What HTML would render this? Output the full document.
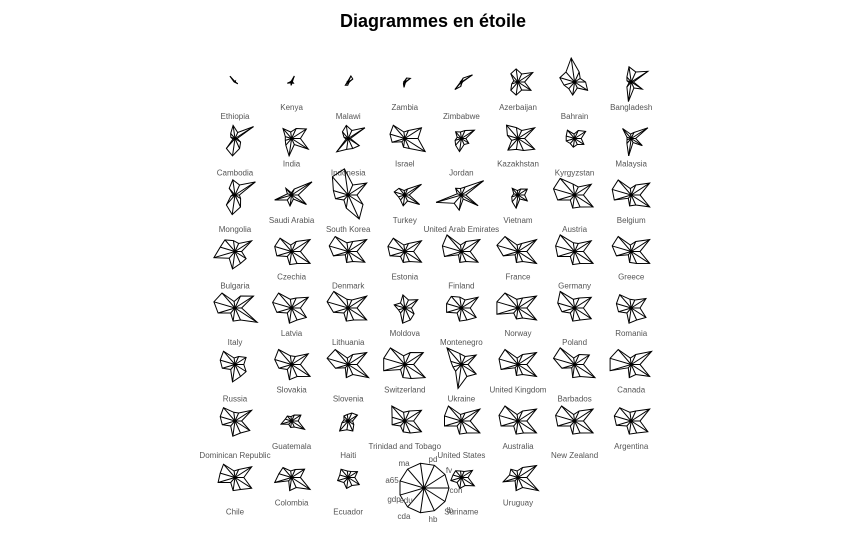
<!DOCTYPE html>
<html><head><meta charset="utf-8"><style>
body{margin:0;background:#fff;}
svg{display:block;font-family:"Liberation Sans",sans-serif;}
</style></head><body>
<svg id="chart" width="866" height="540">
<text x="433" y="27" text-anchor="middle" font-size="18" font-weight="bold">Diagrammes en étoile</text>
<g id="stars"></g>
</svg>
<script>
const countries=["Ethiopia","Kenya","Malawi","Zambia","Zimbabwe","Azerbaijan","Bahrain","Bangladesh",
"Cambodia","India","Indonesia","Israel","Jordan","Kazakhstan","Kyrgyzstan","Malaysia",
"Mongolia","Saudi Arabia","South Korea","Turkey","United Arab Emirates","Vietnam","Austria","Belgium",
"Bulgaria","Czechia","Denmark","Estonia","Finland","France","Germany","Greece",
"Italy","Latvia","Lithuania","Moldova","Montenegro","Norway","Poland","Romania",
"Russia","Slovakia","Slovenia","Switzerland","Ukraine","United Kingdom","Barbados","Canada",
"Dominican Republic","Guatemala","Haiti","Trinidad and Tobago","United States","Australia","New Zealand","Argentina",
"Chile","Colombia","Ecuador","Suriname","Uruguay"];
const slots=[0,1,2,3,4,5,6,7,8,9,10,11,12,13,14,15,16,17,18,19,20,21,22,23,24,25,26,27,28,29,30,31,32,33,34,35,36,37,38,39,40,41,42,43,44,45,46,47,48,49,50,51,52,53,54,55,56,57,58,60,61];
const variables=["con","fv","pd","","ma","a65","gdp","edu","cda","hb","lb"];
const values=[
[0.02,0.02,0.05,0.02,0.35,0.05,0.02,0.02,0.02,0.02,0.15],
[0.05,0.05,0.3,0.05,0.05,0.05,0.2,0.05,0.15,0.05,0.1],
[0.05,0.25,0.3,0.05,0.05,0.05,0.05,0.2,0.15,0.05,0.05],
[0.05,0.3,0.2,0.05,0.05,0.05,0.05,0.1,0.25,0.05,0.05],
[0.05,0.6,0.2,0.05,0.05,0.05,0.05,0.45,0.2,0.05,0.05],
[0.3,0.8,0.4,0.6,0.5,0.2,0.3,0.5,0.6,0.4,0.7],
[0.5,0.3,0.5,1.1,0.6,0.7,0.5,0.4,0.6,0.3,0.7],
[0.1,0.9,0.5,0.7,0.3,0.2,0.1,0.3,0.9,0.3,0.6],
[0.1,1.0,0.3,0.6,0.3,0.2,0.1,0.6,0.8,0.5,0.3],
[0.4,0.8,0.5,0.3,0.6,0.3,0.3,0.4,0.8,0.3,0.9],
[0.1,0.9,0.4,0.6,0.4,0.2,0.1,0.8,0.5,0.5,0.6],
[0.6,0.9,0.4,0.3,0.8,0.7,0.6,0.2,0.4,0.5,1.1],
[0.2,0.7,0.4,0.3,0.4,0.2,0.3,0.4,0.6,0.3,0.4],
[0.3,0.9,0.4,0.5,0.8,0.5,0.3,0.7,0.5,0.6,0.9],
[0.3,0.6,0.4,0.2,0.5,0.4,0.4,0.3,0.4,0.3,0.5],
[0.2,0.9,0.3,0.2,0.6,0.2,0.2,0.3,0.8,0.2,0.6],
[0.2,1.1,0.5,0.7,0.4,0.1,0.2,0.6,0.9,0.6,0.3],
[0.3,1.1,0.3,0.1,0.4,0.2,0.8,0.3,0.5,0.2,0.8],
[0.4,1.0,0.5,1.2,1.1,0.7,0.6,0.3,0.6,1.2,0.8],
[0.2,0.9,0.3,0.2,0.4,0.5,0.3,0.3,0.5,0.3,0.8],
[0.2,1.2,0.4,0.3,0.4,0.2,1.2,0.5,0.7,0.2,0.9],
[0.3,0.5,0.3,0.2,0.4,0.2,0.3,0.4,0.6,0.2,0.5],
[0.4,0.9,0.4,0.5,1.0,1.0,0.8,0.3,0.6,0.6,1.0],
[0.4,1.0,0.5,0.3,0.9,0.9,0.8,0.2,0.5,0.5,1.0],
[0.3,0.9,0.4,0.5,0.7,0.7,1.0,0.4,0.8,0.6,0.6],
[0.4,1.0,0.5,0.3,0.8,0.8,0.7,0.3,0.6,0.6,1.0],
[0.4,1.0,0.5,0.4,0.9,0.9,0.7,0.2,0.5,0.5,0.9],
[0.4,0.9,0.4,0.3,0.8,0.8,0.7,0.3,0.5,0.5,0.9],
[0.4,1.0,0.5,0.3,1.0,0.9,0.8,0.2,0.5,0.5,0.9],
[0.4,1.0,0.4,0.3,0.9,1.0,0.7,0.2,0.5,0.5,1.0],
[0.4,0.9,0.4,0.4,1.0,0.9,0.8,0.3,0.6,0.6,1.0],
[0.4,1.0,0.5,0.3,0.9,0.9,0.7,0.2,0.5,0.6,1.0],
[0.3,1.0,0.6,0.3,0.9,1.0,0.8,0.3,0.6,0.6,1.2],
[0.4,0.9,0.5,0.4,0.9,0.9,0.7,0.3,0.7,0.6,0.8],
[0.4,1.0,0.4,0.4,1.0,1.0,0.7,0.3,0.6,0.6,1.0],
[0.3,0.7,0.4,0.6,0.3,0.5,0.3,0.3,0.7,0.6,0.5],
[0.4,0.9,0.4,0.5,0.7,0.7,0.7,0.3,0.6,0.6,0.8],
[0.4,1.0,0.5,0.4,0.9,1.0,1.0,0.3,0.5,0.5,1.0],
[0.4,0.9,0.5,0.4,1.0,0.8,0.6,0.3,0.6,0.6,0.9],
[0.4,0.8,0.4,0.4,0.8,0.7,0.6,0.3,0.7,0.6,0.8],
[0.4,0.6,0.4,0.3,0.8,0.7,0.6,0.3,0.8,0.6,0.6],
[0.4,0.9,0.4,0.4,0.9,0.8,0.6,0.3,0.7,0.6,1.0],
[0.4,1.0,0.5,0.3,0.9,1.0,0.6,0.2,0.6,0.5,1.1],
[0.4,1.0,0.6,0.4,1.0,1.0,1.0,0.3,0.6,0.7,1.1],
[0.3,0.8,0.4,0.5,1.0,0.5,0.4,0.4,1.1,0.6,0.8],
[0.4,1.0,0.5,0.3,0.9,0.9,0.8,0.2,0.5,0.5,1.0],
[0.4,0.8,0.5,0.3,1.0,1.0,0.6,0.2,0.6,0.6,1.1],
[0.4,1.1,0.5,0.3,0.9,1.0,1.0,0.2,0.6,0.5,1.0],
[0.3,0.9,0.4,0.4,0.8,0.7,0.6,0.3,0.7,0.6,0.8],
[0.3,0.5,0.3,0.2,0.3,0.3,0.5,0.2,0.3,0.3,0.7],
[0.2,0.5,0.4,0.3,0.3,0.2,0.3,0.6,0.4,0.5,0.3],
[0.4,0.9,0.5,0.4,0.9,0.6,0.6,0.3,0.5,0.6,0.9],
[0.4,1.0,0.4,0.3,0.9,0.8,0.8,0.3,0.6,0.6,1.0],
[0.4,1.0,0.5,0.3,0.9,0.9,0.8,0.3,0.6,0.6,1.0],
[0.4,1.0,0.5,0.3,0.9,0.9,0.8,0.3,0.6,0.6,1.0],
[0.4,1.0,0.5,0.4,0.8,0.8,0.7,0.3,0.6,0.6,0.9],
[0.4,0.9,0.4,0.3,0.8,0.7,0.8,0.3,0.6,0.6,0.9],
[0.4,0.7,0.4,0.3,0.6,0.6,0.8,0.2,0.6,0.5,1.0],
[0.3,0.5,0.3,0.3,0.5,0.4,0.5,0.3,0.5,0.4,0.6],
[0.3,0.6,0.3,0.3,0.4,0.4,0.5,0.3,0.5,0.4,0.7],
[0.4,1.0,0.5,0.3,0.5,0.4,0.7,0.2,0.6,0.5,1.1]];
const NS="http://www.w3.org/2000/svg";
const g=document.getElementById('stars');
const R=22;
const colX=c=>235+56.6*c;
const rowY=r=>82+56.5*r;
const N=variables.length;
function pt(cx,cy,v,j,rad){const a=j*2*Math.PI/N;return [cx+rad*v*Math.cos(a),cy-rad*v*Math.sin(a)];}
function drawStar(cx,cy,vals,name,rad){
  const grp=document.createElementNS(NS,'g');
  
  
  const pts=vals.map((v,j)=>pt(cx,cy,v,j,rad));
  const poly=document.createElementNS(NS,'polygon');
  poly.setAttribute('points',pts.map(p=>p[0].toFixed(1)+','+p[1].toFixed(1)).join(' '));
  poly.setAttribute('fill','none');poly.setAttribute('stroke','#000');poly.setAttribute('stroke-width','1');
  grp.appendChild(poly);
  pts.forEach(p=>{const l=document.createElementNS(NS,'line');
    l.setAttribute('x1',cx);l.setAttribute('y1',cy);l.setAttribute('x2',p[0]);l.setAttribute('y2',p[1]);
    l.setAttribute('stroke','#000');l.setAttribute('stroke-width','1');grp.appendChild(l);});
  g.appendChild(grp);
}
countries.forEach((name,i)=>{
  const s=slots[i],r=Math.floor(s/8),c=s%8;
  const cx=colX(c),cy=rowY(r);
  drawStar(cx,cy,values[i],'star-'+name.toLowerCase().replace(/ /g,'-'),R);
  const t=document.createElementNS(NS,'text');
  t.setAttribute('x',cx);t.setAttribute('y',cy+(c%2?28:37));
  t.setAttribute('text-anchor','middle');t.setAttribute('font-size','8');t.setAttribute('fill','#555');
  t.textContent=name;
  
  
  g.appendChild(t);
});
// key
drawStar(424,488,variables.map(()=>1),'key-star',25);
const keyLabels=[["con",456,493],["fv",449,473],["pd",433,462],["ma",404,466],["a65",392,483],["gdp",394,502],["edu",406,503],["cda",404,519],["hb",433,522],["lb",450,513]];
keyLabels.forEach(k=>{const t=document.createElementNS(NS,'text');
  t.setAttribute('x',k[1]);t.setAttribute('y',k[2]);t.setAttribute('text-anchor','middle');
  t.setAttribute('font-size','8');t.setAttribute('fill','#555');t.textContent=k[0];
  
  
  g.appendChild(t);});
</script>
</body></html>
